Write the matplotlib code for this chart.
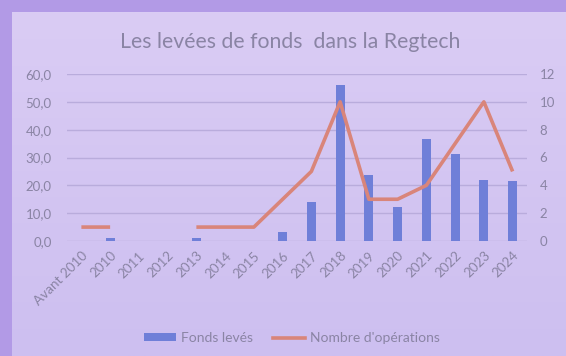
import numpy as np
import matplotlib
matplotlib.use("Agg")
import matplotlib.pyplot as plt
from matplotlib.lines import Line2D
from matplotlib.patches import Patch

plt.rcParams['font.family'] = ['Lato', 'DejaVu Sans']

categories = ["Avant 2010", "2010", "2011", "2012", "2013", "2014", "2015",
              "2016", "2017", "2018", "2019", "2020", "2021", "2022", "2023", "2024"]
fonds_leves = [0, 1.2, 0, 0, 1.2, 0, 0, 3.3, 14.1, 56.0, 23.7, 12.3, 36.8, 31.2, 21.9, 21.4]
nb_operations = [1, 1, np.nan, np.nan, 1, 1, 1, 3, 5, 10, 3, 3, 4, 7, 10, 5]
left_ticks = [0, 10, 20, 30, 40, 50, 60]
right_ticks = [0, 2, 4, 6, 8, 10, 12]

bar_color = "#6F7FD8"
line_color = "#D9857A"
text_color = "#8A84A4"
grid_color = "#B9ACDC"

W, H = 566, 356
fig = plt.figure(figsize=(W / 100, H / 100), dpi=100)
fig.patch.set_facecolor("#B29AE6")

# lighter inner panel with a soft vertical gradient
grad = np.linspace(0, 1, 256).reshape(-1, 1)
top = np.array(matplotlib.colors.to_rgb("#DACCF4"))
bot = np.array(matplotlib.colors.to_rgb("#CDBFF0"))
img = top * (1 - grad)[..., None] + bot * grad[..., None]
bg = fig.add_axes([12 / W, 0, 1 - 12 / W, 1 - 12 / H])
bg.imshow(img, aspect="auto", extent=[0, 1, 0, 1])
bg.set_axis_off()

ax = fig.add_axes([67 / W, 1 - 241 / H, (527 - 67) / W, (241 - 74) / H])
ax.set_facecolor("none")
x = np.arange(len(categories))
ax.bar(x, fonds_leves, width=0.31, color=bar_color, zorder=3)
ax.set_xlim(-0.5, len(categories) - 0.5)
ax.set_ylim(0, 60)
ax.set_yticks(left_ticks)
ax.set_yticklabels([f"{v:.1f}".replace(".", ",") for v in left_ticks])
for v in left_ticks:
    ax.axhline(v, color=grid_color, lw=1.0, zorder=1)
for s in ax.spines.values():
    s.set_visible(False)
ax.tick_params(axis="y", length=0, pad=11, labelsize=9.5, labelcolor=text_color)
ax.set_xticks(x)
ax.set_xticklabels(categories, rotation=45, ha="right", va="top",
                   rotation_mode="anchor")
ax.tick_params(axis="x", length=0, pad=6, labelsize=9.7, labelcolor=text_color)

ax2 = ax.twinx()
ax2.plot(x, nb_operations, color=line_color, lw=2.6, zorder=4,
         solid_capstyle="butt")
ax2.set_ylim(0, 12)
ax2.set_yticks(right_ticks)
ax2.set_yticklabels([str(v) for v in right_ticks])
for s in ax2.spines.values():
    s.set_visible(False)
ax2.tick_params(axis="y", length=0, pad=9, labelsize=9.5, labelcolor=text_color)

fig.text(290 / W, 1 - 42 / H, "Les levées de fonds  dans la Regtech",
         ha="center", va="center", fontsize=15.3, color=text_color)

handles = [Patch(facecolor=bar_color, edgecolor="none"),
           Line2D([0], [0], color=line_color, lw=2.6)]
fig.legend(handles, ["Fonds levés", "Nombre d'opérations"],
           loc="center", bbox_to_anchor=(292 / W, 1 - 338 / H), ncol=2,
           frameon=False, fontsize=10, handlelength=2.3, handleheight=0.45,
           handletextpad=0.35, columnspacing=1.5, labelcolor=text_color)

fig.savefig("out.png", dpi=100)
